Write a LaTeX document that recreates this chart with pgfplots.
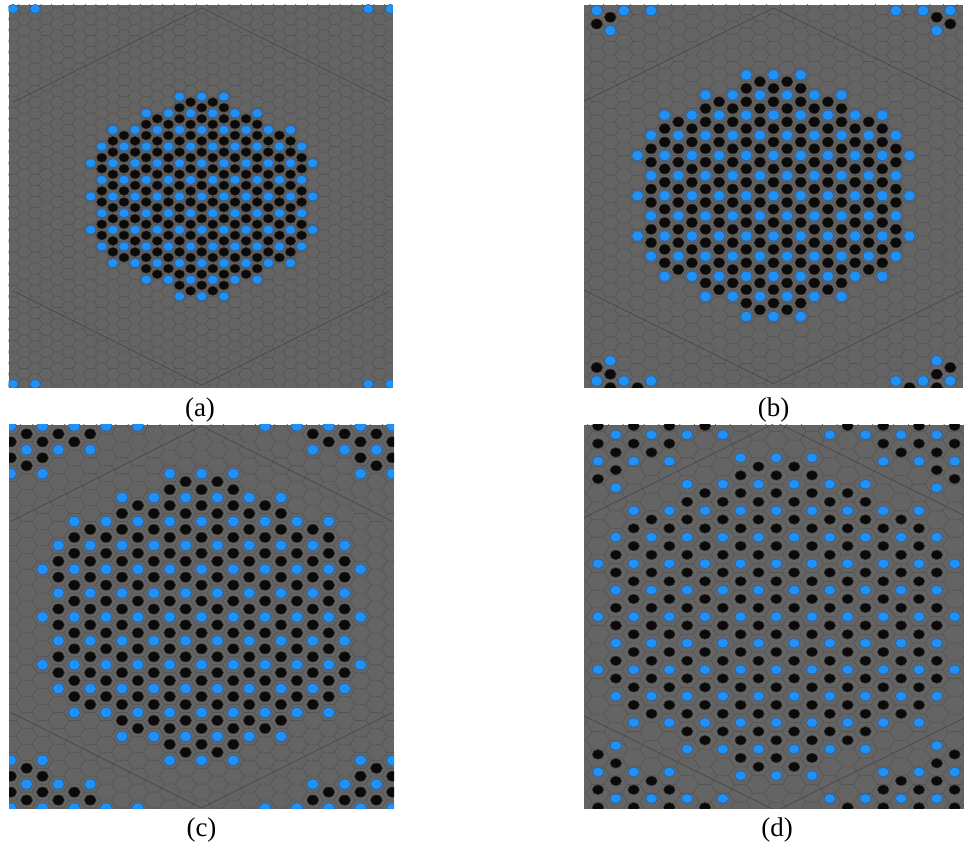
\documentclass[border=0pt]{standalone}
\usepackage{fontspec}
\setmainfont{Liberation Serif}
\usepackage{pgfplots}
\usepackage{pgfplotstable}
\pgfplotsset{compat=1.18}

\definecolor{bggray}{RGB}{100,100,100}
\definecolor{gridcol}{RGB}{84,84,84}
\definecolor{wscol}{RGB}{66,66,66}
\definecolor{dotblue}{RGB}{33,145,245}
\definecolor{dotblueedge}{RGB}{25,95,175}
\definecolor{dotblack}{RGB}{10,10,10}
\definecolor{dotblackedge}{RGB}{50,44,38}

% one cluster: sites of the sqrt3 superlattice (blue) and the honeycomb around them (black)
% c = column index, h = half-row index
\pgfplotstableread[row sep=\\]{
c h\\
-2 -18\\ 0 -18\\ 2 -18\\
-5 -15\\ -3 -15\\ -1 -15\\ 1 -15\\ 3 -15\\ 5 -15\\
-8 -12\\ -6 -12\\ -4 -12\\ -2 -12\\ 0 -12\\ 2 -12\\ 4 -12\\ 6 -12\\ 8 -12\\
-9 -9\\ -7 -9\\ -5 -9\\ -3 -9\\ -1 -9\\ 1 -9\\ 3 -9\\ 5 -9\\ 7 -9\\ 9 -9\\
-10 -6\\ -8 -6\\ -6 -6\\ -4 -6\\ -2 -6\\ 0 -6\\ 2 -6\\ 4 -6\\ 6 -6\\ 8 -6\\ 10 -6\\
-9 -3\\ -7 -3\\ -5 -3\\ -3 -3\\ -1 -3\\ 1 -3\\ 3 -3\\ 5 -3\\ 7 -3\\ 9 -3\\
-10 0\\ -8 0\\ -6 0\\ -4 0\\ -2 0\\ 0 0\\ 2 0\\ 4 0\\ 6 0\\ 8 0\\ 10 0\\
-9 3\\ -7 3\\ -5 3\\ -3 3\\ -1 3\\ 1 3\\ 3 3\\ 5 3\\ 7 3\\ 9 3\\
-10 6\\ -8 6\\ -6 6\\ -4 6\\ -2 6\\ 0 6\\ 2 6\\ 4 6\\ 6 6\\ 8 6\\ 10 6\\
-9 9\\ -7 9\\ -5 9\\ -3 9\\ -1 9\\ 1 9\\ 3 9\\ 5 9\\ 7 9\\ 9 9\\
-8 12\\ -6 12\\ -4 12\\ -2 12\\ 0 12\\ 2 12\\ 4 12\\ 6 12\\ 8 12\\
-5 15\\ -3 15\\ -1 15\\ 1 15\\ 3 15\\ 5 15\\
-2 18\\ 0 18\\ 2 18\\
}\bluetab

\pgfplotstableread[row sep=\\]{
c h\\
-1 -17\\ 1 -17\\
-2 -16\\ 0 -16\\ 2 -16\\
-4 -14\\ -2 -14\\ 0 -14\\ 2 -14\\ 4 -14\\
-5 -13\\ -3 -13\\ -1 -13\\ 1 -13\\ 3 -13\\ 5 -13\\
-7 -11\\ -5 -11\\ -3 -11\\ -1 -11\\ 1 -11\\ 3 -11\\ 5 -11\\ 7 -11\\
-8 -10\\ -6 -10\\ -4 -10\\ -2 -10\\ 0 -10\\ 2 -10\\ 4 -10\\ 6 -10\\ 8 -10\\
-8 -8\\ -6 -8\\ -4 -8\\ -2 -8\\ 0 -8\\ 2 -8\\ 4 -8\\ 6 -8\\ 8 -8\\
-9 -7\\ -7 -7\\ -5 -7\\ -3 -7\\ -1 -7\\ 1 -7\\ 3 -7\\ 5 -7\\ 7 -7\\ 9 -7\\
-9 -5\\ -7 -5\\ -5 -5\\ -3 -5\\ -1 -5\\ 1 -5\\ 3 -5\\ 5 -5\\ 7 -5\\ 9 -5\\
-8 -4\\ -6 -4\\ -4 -4\\ -2 -4\\ 0 -4\\ 2 -4\\ 4 -4\\ 6 -4\\ 8 -4\\
-8 -2\\ -6 -2\\ -4 -2\\ -2 -2\\ 0 -2\\ 2 -2\\ 4 -2\\ 6 -2\\ 8 -2\\
-9 -1\\ -7 -1\\ -5 -1\\ -3 -1\\ -1 -1\\ 1 -1\\ 3 -1\\ 5 -1\\ 7 -1\\ 9 -1\\
-9 1\\ -7 1\\ -5 1\\ -3 1\\ -1 1\\ 1 1\\ 3 1\\ 5 1\\ 7 1\\ 9 1\\
-8 2\\ -6 2\\ -4 2\\ -2 2\\ 0 2\\ 2 2\\ 4 2\\ 6 2\\ 8 2\\
-8 4\\ -6 4\\ -4 4\\ -2 4\\ 0 4\\ 2 4\\ 4 4\\ 6 4\\ 8 4\\
-9 5\\ -7 5\\ -5 5\\ -3 5\\ -1 5\\ 1 5\\ 3 5\\ 5 5\\ 7 5\\ 9 5\\
-9 7\\ -7 7\\ -5 7\\ -3 7\\ -1 7\\ 1 7\\ 3 7\\ 5 7\\ 7 7\\ 9 7\\
-8 8\\ -6 8\\ -4 8\\ -2 8\\ 0 8\\ 2 8\\ 4 8\\ 6 8\\ 8 8\\
-8 10\\ -6 10\\ -4 10\\ -2 10\\ 0 10\\ 2 10\\ 4 10\\ 6 10\\ 8 10\\
-7 11\\ -5 11\\ -3 11\\ -1 11\\ 1 11\\ 3 11\\ 5 11\\ 7 11\\
-5 13\\ -3 13\\ -1 13\\ 1 13\\ 3 13\\ 5 13\\
-4 14\\ -2 14\\ 0 14\\ 2 14\\ 4 14\\
-2 16\\ 0 16\\ 2 16\\
-1 17\\ 1 17\\
}\blacktab

% flat-topped hexagonal cells, one column at a time
\newcommand{\hexgrid}[3]{%
  \foreach \c in {#1,...,#2}{%
    \pgfmathtruncatemacro{\hs}{-#3-mod(abs(\c),2)}%
    \pgfmathtruncatemacro{\hn}{\hs+2}%
    \draw[draw=gridcol, line width=0.6pt] \foreach \h in {\hs,\hn,...,#3}{
      (\c-0.6667,\h) -- (\c-0.3333,\h+1) -- (\c+0.3333,\h+1)
      (\c-0.3333,\h+1) -- (\c-0.6667,\h+2) };
  }}

% slanted edges of the periodic cell of size #1
\newcommand{\celledges}[1]{%
  \pgfmathsetmacro{\hL}{#1/2}%
  \draw[wscol, line width=0.55pt]
    (-\hL,\hL) -- (0,#1) -- (\hL,\hL)
    (-\hL,-\hL) -- (0,-#1) -- (\hL,-\hL);
}

% cluster shifted by (#1,#2); #3 = dot radius in pt, #4 = vertical squeeze
\newcommand{\drawcluster}[4]{%
  \addplot[only marks, mark=*, mark size=#3pt,
    mark options={yscale=#4, fill=dotblue, draw=dotblueedge, line width=0.5pt}]
    table[x expr={\thisrow{c}+(#1)}, y expr={\thisrow{h}+(#2)}] {\bluetab};
  \addplot[only marks, mark=*, mark size=#3pt,
    mark options={yscale=#4, fill=dotblack, draw=dotblackedge, line width=0.5pt}]
    table[x expr={\thisrow{c}+(#1)}, y expr={\thisrow{h}+(#2)}] {\blacktab};
}

\pgfplotsset{panel/.style={hide axis, anchor=south west, clip marker paths=true}}

\begin{document}
\begin{tikzpicture}
\useasboundingbox (0,0) rectangle (964pt,848pt);

% ---------------- (a) ----------------
\begin{scope}
\clip (8.5pt,460pt) rectangle (393pt,843pt);
\fill[bggray] (8.5pt,460pt) rectangle (393pt,843pt);
\begin{scope}[shift={(201.7pt,651.5pt)}, x=11.1pt, y=5.55pt]
  \hexgrid{-18}{19}{36}
  \celledges{34}
\end{scope}
\begin{axis}[panel, at={(8.5pt,460pt)}, x=11.1pt, y=5.55pt,
  xmin=-17.405, xmax=17.234, ymin=-34.505, ymax=34.505]
  \drawcluster{0}{0}{5.2}{0.87}
  \drawcluster{17}{51.8}{5.2}{0.87}
  \drawcluster{-17}{51.8}{5.2}{0.87}
  \drawcluster{17}{-51.8}{5.2}{0.87}
  \drawcluster{-17}{-51.8}{5.2}{0.87}
\end{axis}
\end{scope}

% ---------------- (b) ----------------
\begin{scope}
\clip (584pt,460pt) rectangle (963pt,843pt);
\fill[bggray] (584pt,460pt) rectangle (963pt,843pt);
\begin{scope}[shift={(773.5pt,652.25pt)}, x=13.6pt, y=6.71pt]
  \hexgrid{-15}{15}{30}
  \celledges{28}
\end{scope}
\begin{axis}[panel, at={(584pt,460pt)}, x=13.6pt, y=6.71pt,
  xmin=-13.934, xmax=13.934, ymin=-28.65, ymax=28.43]
  \drawcluster{0}{0}{5.8}{0.87}
  \drawcluster{14}{42.6}{5.8}{0.87}
  \drawcluster{-14}{42.6}{5.8}{0.87}
  \drawcluster{14}{-42.6}{5.8}{0.87}
  \drawcluster{-14}{-42.6}{5.8}{0.87}
\end{axis}
\end{scope}

% ---------------- (c) ----------------
\begin{scope}
\clip (9pt,39pt) rectangle (394pt,423pt);
\fill[bggray] (9pt,39pt) rectangle (394pt,423pt);
\begin{scope}[shift={(201.5pt,231pt)}, x=15.9pt, y=7.96pt]
  \hexgrid{-13}{13}{26}
  \celledges{24}
\end{scope}
\begin{axis}[panel, at={(9pt,39pt)}, x=15.9pt, y=7.96pt,
  xmin=-12.107, xmax=12.107, ymin=-24.12, ymax=24.12]
  \drawcluster{0}{0}{5.9}{0.86}
  \drawcluster{12}{36}{5.9}{0.86}
  \drawcluster{-12}{36}{5.9}{0.86}
  \drawcluster{12}{-36}{5.9}{0.86}
  \drawcluster{-12}{-36}{5.9}{0.86}
\end{axis}
\end{scope}

% ---------------- (d) ----------------
\begin{scope}
\clip (584pt,39pt) rectangle (964pt,423pt);
\fill[bggray] (584pt,39pt) rectangle (964pt,423pt);
\begin{scope}[shift={(776.3pt,231.3pt)}, x=17.83pt, y=8.83pt]
  \hexgrid{-12}{12}{24}
  \celledges{22}
\end{scope}
\begin{axis}[panel, at={(584pt,39pt)}, x=17.83pt, y=8.83pt,
  xmin=-10.785, xmax=10.527, ymin=-21.78, ymax=21.71]
  \drawcluster{0}{0}{5.7}{0.84}
  \drawcluster{11}{32.6}{5.7}{0.84}
  \drawcluster{-11}{32.6}{5.7}{0.84}
  \drawcluster{11}{-32.6}{5.7}{0.84}
  \drawcluster{-11}{-32.6}{5.7}{0.84}
\end{axis}
\end{scope}

% panel captions
\node[font=\fontsize{27}{30}\selectfont] at (200pt,438.3pt) {(a)};
\node[font=\fontsize{27}{30}\selectfont] at (773.5pt,438.3pt) {(b)};
\node[font=\fontsize{27}{30}\selectfont] at (201.5pt,18pt) {(c)};
\node[font=\fontsize{27}{30}\selectfont] at (777pt,18pt) {(d)};
\end{tikzpicture}
\end{document}
